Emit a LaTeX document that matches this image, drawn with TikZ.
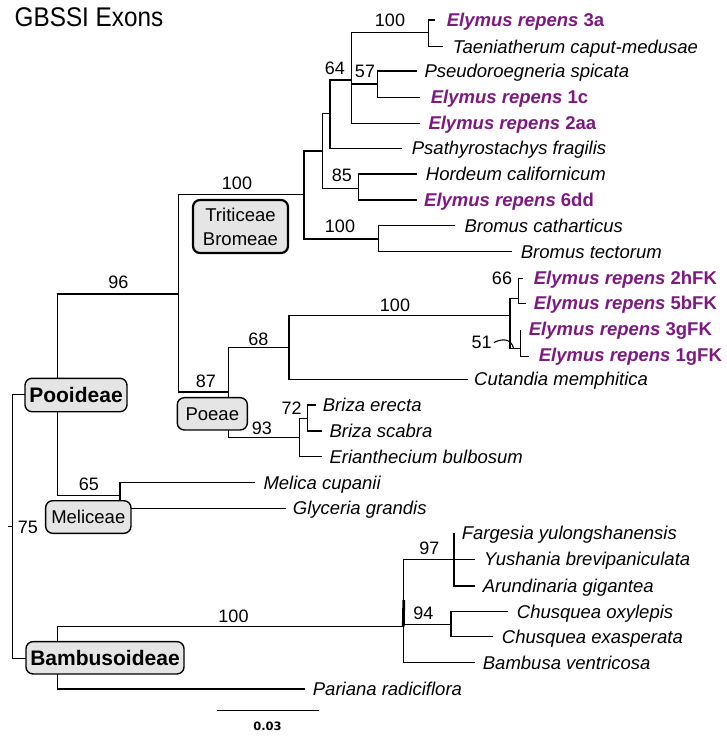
\documentclass[tikz,border=0pt]{standalone}
\usepackage{fontspec}
\setmainfont{Liberation Sans}
\newfontfamily\scalebarfont{DejaVu Sans}
\definecolor{erpurple}{RGB}{125,25,128}
\begin{document}
\begin{tikzpicture}[x=1pt,y=-1pt,
  br/.style={line width=1.5pt},
  sp/.style={anchor=west,inner sep=0pt,text height=13.3pt,text depth=0pt,font=\fontsize{18.5}{20}\selectfont\itshape},
  er/.style={anchor=west,inner sep=0pt,text height=13.3pt,text depth=0pt,font=\fontsize{18.5}{20}\selectfont\bfseries,text=erpurple},
  bs/.style={inner sep=0pt,font=\fontsize{18}{20}\selectfont},
  clade/.style={draw,line width=1.4pt,rounded corners=7pt,fill=gray!20,inner sep=0pt,font=\fontsize{18.5}{24}\selectfont,align=center},
  cladebold/.style={clade,font=\fontsize{21}{24}\selectfont\bfseries}]
\useasboundingbox (0,0) rectangle (727,737);
% internal nodes
\coordinate (Rs) at (7.5,526.7);
\coordinate (R) at (12.7,526.7);
\coordinate (Po) at (57.7,394.3);
\coordinate (Ba) at (57.7,658.3);
\coordinate (N96) at (178.3,294);
\coordinate (Mel) at (120,495.7);
\coordinate (Tri) at (304,194.3);
\coordinate (Poe) at (228.3,392);
\coordinate (P2) at (322.3,151);
\coordinate (Bro) at (378.3,239);
\coordinate (P1) at (330,113.3);
\coordinate (N85) at (358.3,188.3);
\coordinate (N64) at (351.7,80);
\coordinate (N100a) at (428.3,32.3);
\coordinate (N57) at (377.3,84);
\coordinate (N68) at (289,347.7);
\coordinate (N93) at (299.3,437.7);
\coordinate (Ely) at (510,315.7);
\coordinate (N66) at (518.3,298.3);
\coordinate (N51) at (520.3,348.3);
\coordinate (N72) at (307.7,418.3);
\coordinate (Bcr) at (403.3,626.7);
\coordinate (Bcrt) at (403.8,600);
\coordinate (N97) at (454,559.3);
\coordinate (N94) at (451,624.3);
% tips
\coordinate (tE3a) at (435,20);
\coordinate (tTae) at (443.3,46.7);
\coordinate (tPse) at (416.7,71);
\coordinate (tE1c) at (420,97.3);
\coordinate (tE2aa) at (420,123.3);
\coordinate (tPsa) at (401.7,148.3);
\coordinate (tHor) at (416.7,174);
\coordinate (tE6dd) at (416.7,200);
\coordinate (tBrC) at (455,225.7);
\coordinate (tBrT) at (511.7,251.7);
\coordinate (t2h) at (523.3,278.3);
\coordinate (t5b) at (525.5,303.3);
\coordinate (t3g) at (520.3,330);
\coordinate (t1g) at (528.7,356.7);
\coordinate (tCut) at (467.7,379.3);
\coordinate (tBrE) at (315.7,405);
\coordinate (tBrS) at (321.7,431);
\coordinate (tEri) at (321.7,456.7);
\coordinate (tMelC) at (255,482.5);
\coordinate (tGly) at (286,508.3);
\coordinate (tPar) at (305,689);
\coordinate (tFar) at (454,533.3);
\coordinate (tYus) at (475,559.3);
\coordinate (tAru) at (475,586);
\coordinate (tCo) at (508.3,611.7);
\coordinate (tCe) at (493.3,636.7);
\coordinate (tBam) at (475,662.7);
% branches
\draw[br] (Rs) -- (R);
\foreach \p/\c in {R/Po,R/Ba,Po/N96,Po/Mel,N96/Tri,N96/Poe,Tri/P2,Tri/Bro,P2/P1,P2/N85,P1/N64,P1/tPsa,
  N64/N100a,N64/N57,N64/tE2aa,N100a/tE3a,N100a/tTae,N57/tPse,N57/tE1c,N85/tHor,N85/tE6dd,Bro/tBrC,Bro/tBrT,
  Poe/N68,Poe/N93,N68/Ely,N68/tCut,Ely/N66,Ely/N51,N66/t2h,N66/t5b,N51/t3g,N51/t1g,
  N93/N72,N93/tEri,N72/tBrE,N72/tBrS,Mel/tMelC,Mel/tGly,
  Ba/Bcr,Ba/tPar,Bcr/N97,Bcr/N94,Bcr/tBam,N97/tFar,N97/tYus,N97/tAru,N94/tCo,N94/tCe}
  \draw[br] (\p) |- (\c);
\draw[line width=2.8pt] (Bcrt) -- (Bcr);
% clade boxes
\node[clade,line width=2.2pt,minimum width=95pt,minimum height=53pt] (bTri) at (240.5,226.5) {Triticeae\\Bromeae};
\node[cladebold,minimum width=102pt,minimum height=33.4pt] (bPoo) at (76,395) {Pooideae};
\node[clade,minimum width=70pt,minimum height=32.3pt] (bPoe) at (212.3,413.8) {Poeae};
\node[clade,minimum width=85.3pt,minimum height=32.6pt] (bMel) at (88.3,517) {Meliceae};
\node[cladebold,minimum width=158pt,minimum height=32.3pt] (bBam) at (105,657.8) {Bambusoideae};
% species labels
\node[er] (lE3a) at (446.7,20) {\textit{Elymus repens} 3a};
\node[sp] (lTae) at (452.7,46.7) {Taeniatherum caput-medusae};
\node[sp] (lPse) at (424.3,71) {Pseudoroegneria spicata};
\node[er] (lE1c) at (430.7,97.3) {\textit{Elymus repens} 1c};
\node[er] (lE2aa) at (428.3,123.3) {\textit{Elymus repens} 2aa};
\node[sp] (lPsa) at (411.7,148.3) {Psathyrostachys fragilis};
\node[sp] (lHor) at (425.7,174) {Hordeum californicum};
\node[er] (lE6dd) at (424,200) {\textit{Elymus repens} 6dd};
\node[sp] (lBrC) at (464.3,225.7) {Bromus catharticus};
\node[sp] (lBrT) at (520.7,251.7) {Bromus tectorum};
\node[er] (l2h) at (533.7,278.3) {\textit{Elymus repens} 2hFK};
\node[er] (l5b) at (533.7,303.3) {\textit{Elymus repens} 5bFK};
\node[er] (l3g) at (528.7,328.5) {\textit{Elymus repens} 3gFK};
\node[er] (l1g) at (538.7,354.5) {\textit{Elymus repens} 1gFK};
\node[sp] (lCut) at (474,379.3) {Cutandia memphitica};
\node[sp] (lBrE) at (322.7,405) {Briza erecta};
\node[sp] (lBrS) at (329.3,431) {Briza scabra};
\node[sp] (lEri) at (329.3,456.7) {Erianthecium bulbosum};
\node[sp] (lMelC) at (263.3,482.5) {Melica cupanii};
\node[sp] (lGly) at (292.7,508.3) {Glyceria grandis};
\node[sp] (lFar) at (461.7,533.3) {Fargesia yulongshanensis};
\node[sp] (lYus) at (484,559.3) {Yushania brevipaniculata};
\node[sp] (lAru) at (482.7,586) {Arundinaria gigantea};
\node[sp] (lCo) at (516.7,611.7) {Chusquea oxylepis};
\node[sp] (lCe) at (501.7,636.7) {Chusquea exasperata};
\node[sp] (lBam) at (482.7,662.7) {Bambusa ventricosa};
\node[sp] (lPar) at (312.7,689) {Pariana radiciflora};
% support values
\node[bs] (s1) at (390,20) {100};
\node[bs] (s2) at (335,68.5) {64};
\node[bs] (s3) at (365,71.7) {57};
\node[bs] (s4) at (342,175.5) {85};
\node[bs] (s5) at (340,226.7) {100};
\node[bs] (s6) at (237,183.3) {100};
\node[bs] (s7) at (118.3,282.5) {96};
\node[bs] (s8) at (206,381) {87};
\node[bs] (s9) at (258.5,339) {68};
\node[bs] (s10) at (395,305) {100};
\node[bs] (s11) at (502,278.5) {66};
\node[bs] (s12) at (481.7,342.5) {51};
\node[bs] (s13) at (262,428.3) {93};
\node[bs] (s14) at (291.7,408.3) {72};
\node[bs] (s15) at (89,484) {65};
\node[bs] (s16) at (28,527) {75};
\node[bs] (s17) at (233.5,616.5) {100};
\node[bs] (s18) at (429.3,548.3) {97};
\node[bs] (s19) at (423.3,613.3) {94};
% leader for 51
\coordinate (c51) at (513.5,348);
\draw[line width=1.1pt] (s12.east) ++(2,0) .. controls (503,338) and (511,339) .. (c51);
% title
\node[anchor=base west,inner sep=0pt,font=\fontsize{27}{30}\selectfont] (title) at (14.5,26.7) {\scalebox{0.9}[1]{GBSSI Exons}};
% scale bar
\coordinate (sb1) at (217.3,710.7);
\coordinate (sb2) at (319,710.7);
\draw[line width=1.5pt] (sb1) -- (sb2);
\node[inner sep=0pt,font=\scalebarfont\fontsize{11.5}{13}\selectfont\bfseries] (sbl) at (267.5,726) {0.03};
\end{tikzpicture}
\end{document}
